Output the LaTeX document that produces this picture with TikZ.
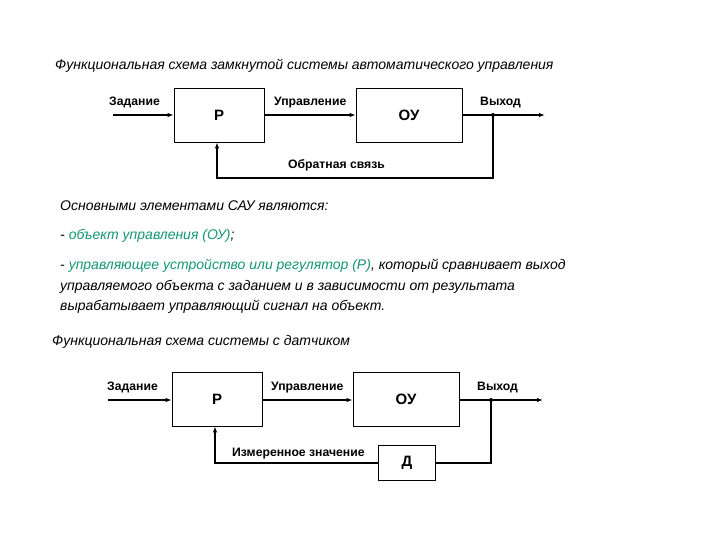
\documentclass[tikz,border=0pt]{standalone}
\usepackage{fontspec}
\setmainfont{Liberation Sans}
\usetikzlibrary{arrows.meta}
\definecolor{grn}{RGB}{20,150,110}
\begin{document}
\begin{tikzpicture}[x=1pt,y=-1pt,
  blk/.style={draw,line width=0.8pt,minimum width=#1,minimum height=54pt,inner sep=0pt,font=\fontsize{15}{17}\selectfont\bfseries},
  lbl/.style={font=\fontsize{12.2}{14}\selectfont\bfseries,inner sep=0pt,anchor=base west},
  itx/.style={font=\fontsize{14}{16}\selectfont\itshape,inner sep=0pt,anchor=base west},
  sig/.style={line width=1.6pt,-{Latex[length=6pt,width=4.5pt]}},
  wire/.style={line width=1.6pt}]
\useasboundingbox (0,0) rectangle (720,540);
% ---------- top diagram ----------
\node[itx] (t1) at (55,70) {Функциональная схема замкнутой системы автоматического управления};
\node[blk=90pt] (p1) at (219,115) {Р};
\node[blk=106pt] (o1) at (409,115) {ОУ};
\coordinate (in1) at (113,115);
\coordinate (j1) at (493,115);
\coordinate (out1) at (545,115);
\coordinate (b1) at (493,178);
\coordinate (c1) at (217,178);
\draw[sig] (in1) -- (p1.west);
\draw[sig] (p1.east) -- (o1.west);
\draw[wire] (o1.east) -- (j1);
\draw[sig] (j1) -- (out1);
\draw[sig] (j1) -- (b1) -- (c1) -- (c1 |- p1.south);
\fill (j1) circle (2pt);
\node[lbl] (z1) at (109,106) {Задание};
\node[lbl] (u1) at (274,106) {Управление};
\node[lbl] (v1) at (480,106) {Выход};
\node[lbl] (f1) at (288,169) {Обратная связь};
% ---------- text ----------
\node[itx] (s1) at (60,211) {Основными элементами САУ являются:};
\node[itx] (s2) at (60,240) {- \textcolor{grn}{объект управления (ОУ)};};
\node[itx] (s3) at (60,269) {- \textcolor{grn}{управляющее устройство или регулятор (Р)}, который сравнивает выход};
\node[itx] (s4) at (60,290) {управляемого объекта с заданием и в зависимости от результата};
\node[itx] (s5) at (60,310) {вырабатывает управляющий сигнал на объект.};
% ---------- bottom diagram ----------
\node[itx] (t2) at (52,345) {Функциональная схема системы с датчиком};
\node[blk=90pt] (p2) at (217,399) {Р};
\node[blk=106pt] (o2) at (406,399) {ОУ};
\node[blk=57pt,minimum height=35pt] (d2) at (407,463) {Д};
\coordinate (in2) at (108,400);
\coordinate (j2) at (491,400);
\coordinate (out2) at (543,400);
\coordinate (b2) at (491,463);
\coordinate (c2) at (215,463);
\draw[sig] (in2) -- (p2.west |- in2);
\draw[sig] (p2.east |- in2) -- (o2.west |- in2);
\draw[wire] (o2.east |- in2) -- (j2);
\draw[sig] (j2) -- (out2);
\draw[wire] (j2) -- (b2) -- (d2.east);
\draw[sig] (d2.west) -- (c2) -- (c2 |- p2.south);
\fill (j2) circle (2pt);
\node[lbl] (z2) at (107,390) {Задание};
\node[lbl] (u2) at (271,390) {Управление};
\node[lbl] (v2) at (477,390) {Выход};
\node[lbl] (m2) at (232,456) {Измеренное значение};
\end{tikzpicture}
\end{document}
